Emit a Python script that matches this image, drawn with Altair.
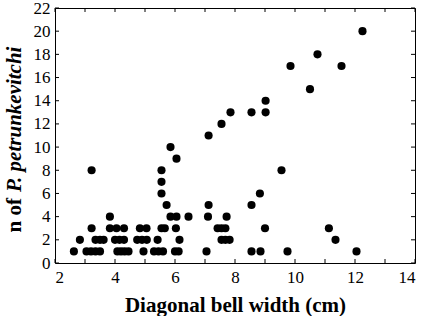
import altair as alt
import pandas as pd

# Data
width_cm = [
    2.63, 3.05, 3.2, 3.35, 3.5, 4.08, 4.2, 4.32, 4.45, 4.95, 5.3, 5.45, 5.6, 6.0, 6.12, 7.05, 8.55, 8.85, 9.75, 12.05,
    2.83, 3.35, 3.5, 3.62, 4.0, 4.15, 4.3, 4.74, 4.9, 5.06, 5.42, 6.15, 7.55, 7.68, 7.82, 11.35,
    3.22, 3.83, 4.05, 4.3, 4.83, 5.05, 5.55, 5.66, 6.03, 7.42, 7.55, 7.68, 9.0, 11.13,
    3.83, 5.85, 6.05, 6.45, 7.1, 7.72,
    5.72, 7.12, 8.55,
    5.55, 8.83,
    5.55,
    3.22, 5.55, 9.55,
    6.05,
    5.85,
    7.12,
    7.55,
    7.85, 8.55, 9.02,
    9.02,
    10.5,
    9.85, 11.55,
    10.75,
    12.25,
]
n_count = (
    [1] * 20 + [2] * 16 + [3] * 14 + [4] * 6 + [5] * 3 + [6] * 2 + [7] + [8] * 3
    + [9] + [10] + [11] + [12] + [13] * 3 + [14] + [15] + [17] * 2 + [18] + [20]
)

x_ticks = list(range(2, 15))
y_ticks = list(range(0, 23, 2))
x_labels = [2, 4, 6, 8, 10, 12, 14]

points = pd.DataFrame({"w": width_cm, "n": n_count})
xt = pd.DataFrame({"w": x_ticks})
yt = pd.DataFrame({"n": y_ticks})

W, H = 360, 255
FONT = "Liberation Serif"

xscale = alt.Scale(domain=[2, 14], nice=False, zero=False)
yscale = alt.Scale(domain=[0, 22], nice=False, zero=False)

xaxis = alt.Axis(values=x_labels, ticks=False, domain=False, grid=False,
                 labelFont=FONT, labelFontSize=17, labelColor="black",
                 labelPadding=6, title="Diagonal bell width (cm)",
                 titleFont=FONT, titleFontSize=21, titleFontWeight="bold",
                 titleColor="black", titlePadding=9)
yaxis = alt.Axis(values=y_ticks, ticks=False, domain=False, grid=False,
                 labelFont=FONT, labelFontSize=17, labelColor="black",
                 labelPadding=5, title="")

X = alt.X("w:Q", scale=xscale, axis=xaxis, title="Diagonal bell width (cm)")
Y = alt.Y("n:Q", scale=yscale, axis=yaxis, title="")

base = alt.Chart(points).mark_circle(size=66, color="black", opacity=1).encode(x=X, y=Y)

tk = 4
bottom = alt.Chart(xt).mark_rule(color="black", strokeWidth=1).encode(
    x=X, y=alt.value(H), y2=alt.value(H - tk))
top = alt.Chart(xt).mark_rule(color="black", strokeWidth=1).encode(
    x=X, y=alt.value(0), y2=alt.value(tk))
left = alt.Chart(yt).mark_rule(color="black", strokeWidth=1).encode(
    y=Y, x=alt.value(0), x2=alt.value(tk))
right = alt.Chart(yt).mark_rule(color="black", strokeWidth=1).encode(
    y=Y, x=alt.value(W), x2=alt.value(W - tk))

t1 = alt.Chart(pd.DataFrame({"t": ["n of"]})).mark_text(
    angle=270, align="right", baseline="alphabetic", font=FONT, fontSize=21,
    fontWeight="bold", color="black").encode(
    text="t:N", x=alt.value(-34), y=alt.value(190))
t2 = alt.Chart(pd.DataFrame({"t": ["P. petrunkevitchi"]})).mark_text(
    angle=270, align="left", baseline="alphabetic", font=FONT, fontSize=21,
    fontWeight="bold", fontStyle="italic", color="black").encode(
    text="t:N", x=alt.value(-34), y=alt.value(184))

chart = alt.layer(base, bottom, top, left, right, t1, t2).properties(
    width=W, height=H,
    autosize=alt.AutoSizeParams(type="none"),
    padding={"left": 55, "top": 8, "right": 8, "bottom": 53},
    background="white",
).configure(font=FONT).configure_axis(
    labelFont=FONT, titleFont=FONT, labelFontSize=17, labelColor="black"
).configure_view(stroke="black", strokeWidth=1)

chart.save("out.html", embed_options={"renderer": "svg", "actions": False})
